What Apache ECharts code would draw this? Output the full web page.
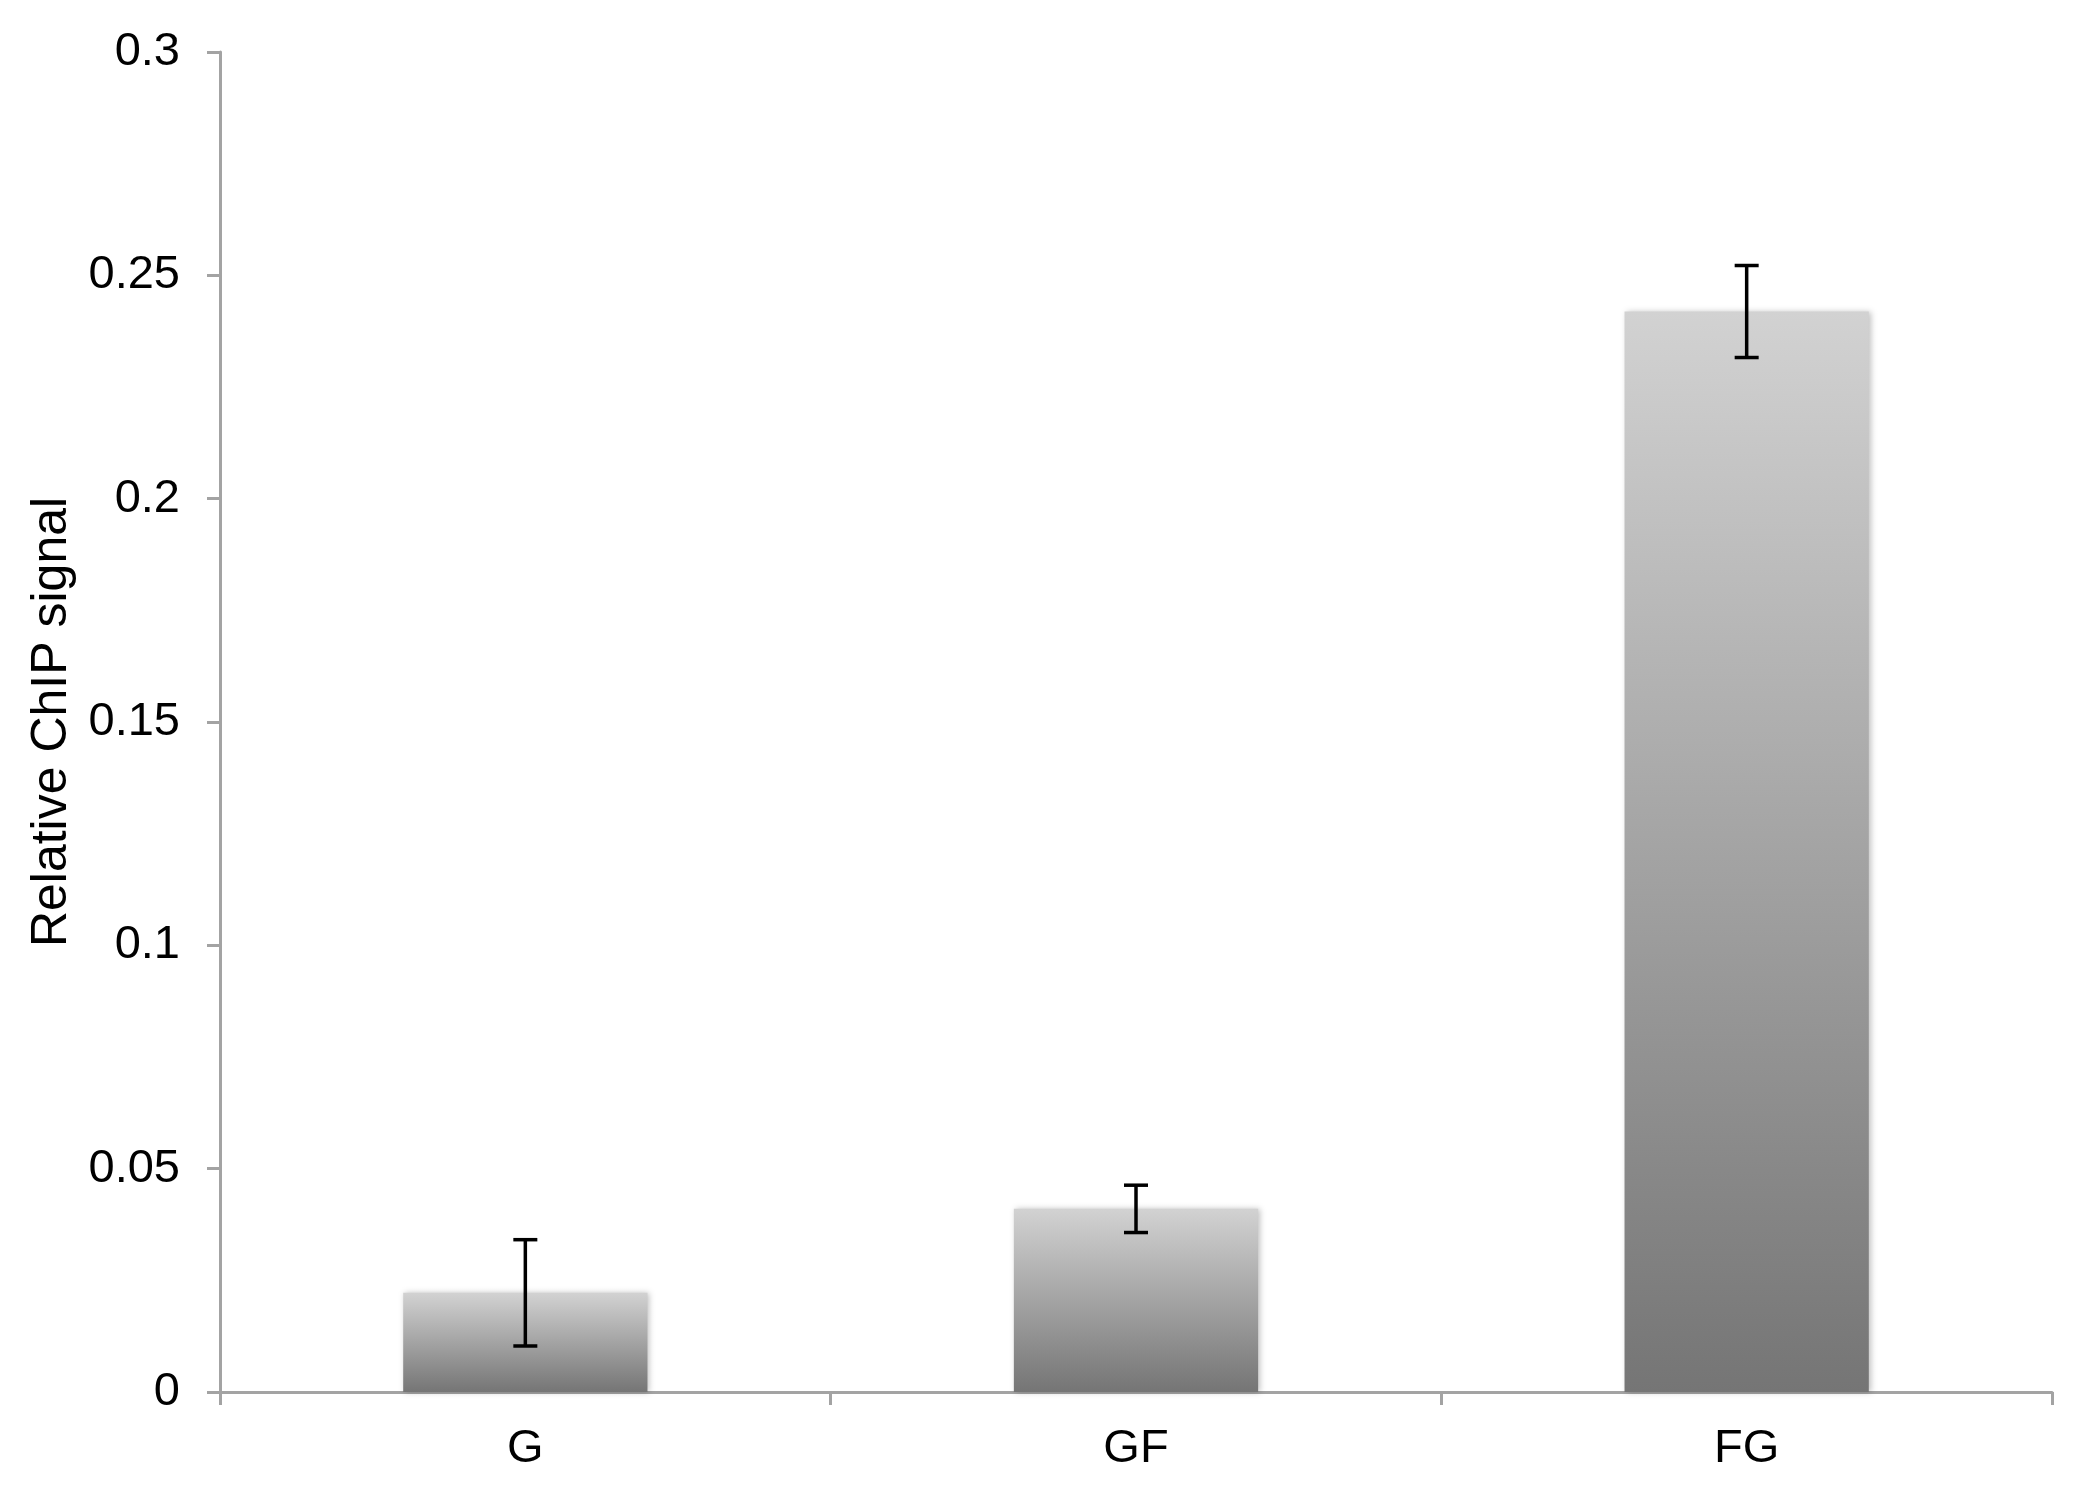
<!DOCTYPE html>
<html><head><meta charset="utf-8">
<script src="https://cdn.jsdelivr.net/npm/echarts@6/dist/echarts.min.js"></script>
<style>html,body{margin:0;padding:0;background:#fff}#c{width:2085px;height:1488px}</style>
</head><body><div id="c"></div>
<script>
var categories = ['G', 'GF', 'FG'];
var values = [0.0222, 0.0410, 0.2419];
var errors = [0.0119, 0.0053, 0.0103];
var yTicks = [0, 0.05, 0.1, 0.15, 0.2, 0.25, 0.3];

var chart = echarts.init(document.getElementById('c'));
var font = 'Liberation Sans, Arial, sans-serif';
chart.setOption({
  animation: false,
  backgroundColor: '#ffffff',
  grid: {left: 220, right: 33, top: 52, bottom: 96},
  xAxis: {
    type: 'category', data: categories,
    axisLine: {lineStyle: {color: '#a3a3a3', width: 3}},
    axisTick: {show: true, length: 13, lineStyle: {color: '#a3a3a3', width: 3}},
    axisLabel: {color: '#000', fontSize: 47, fontFamily: font, margin: 34}
  },
  yAxis: {
    type: 'value', min: 0, max: 0.3, interval: 0.05,
    name: 'Relative ChIP signal', nameLocation: 'middle', nameGap: 141,
    nameTextStyle: {color: '#000', fontSize: 50, fontFamily: font},
    splitLine: {show: false},
    axisLine: {show: true, lineStyle: {color: '#a3a3a3', width: 3}},
    axisTick: {show: true, length: 13, lineStyle: {color: '#a3a3a3', width: 3}},
    axisLabel: {color: '#000', fontSize: 47, fontFamily: font, margin: 40,
      formatter: function (v) { var r = Math.round(v * 100) / 100; return yTicks.indexOf(r) >= 0 ? String(r) : ''; }}
  },
  series: [{
    type: 'bar', data: values, barWidth: '40%',
    itemStyle: {
      color: new echarts.graphic.LinearGradient(0, 0, 0, 1, [
        {offset: 0, color: '#d2d2d2'}, {offset: 1, color: '#757575'}
      ]),
      shadowBlur: 6, shadowColor: 'rgba(0,0,0,0.25)', shadowOffsetX: 2, shadowOffsetY: 0
    }
  }, {
    type: 'custom',
    data: values.map(function (v, i) { return [i, v - errors[i], v + errors[i]]; }),
    renderItem: function (params, api) {
      var lo = api.coord([api.value(0), api.value(1)]);
      var hi = api.coord([api.value(0), api.value(2)]);
      var hw = 12;
      var st = {stroke: '#000', lineWidth: 3.5};
      return {type: 'group', children: [
        {type: 'line', shape: {x1: hi[0], y1: hi[1], x2: lo[0], y2: lo[1]}, style: st},
        {type: 'line', shape: {x1: hi[0] - hw, y1: hi[1], x2: hi[0] + hw, y2: hi[1]}, style: st},
        {type: 'line', shape: {x1: lo[0] - hw, y1: lo[1], x2: lo[0] + hw, y2: lo[1]}, style: st}
      ]};
    },
    z: 10
  }]
});
</script></body></html>
